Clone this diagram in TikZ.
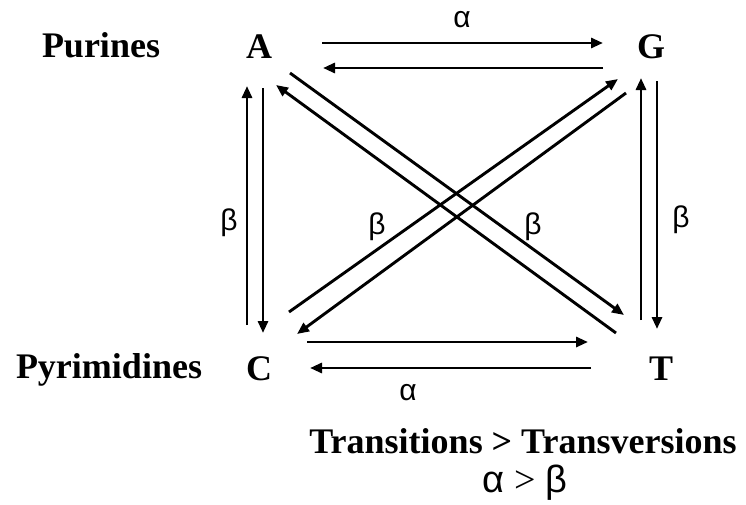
\documentclass[tikz,border=0pt]{standalone}
\usepackage{fontspec}
\setmainfont{Liberation Serif}
\newfontfamily\grk{Liberation Sans}
\usetikzlibrary{arrows.meta}
\begin{document}
\begin{tikzpicture}[x=1pt,y=-1pt,
  base/.style={font=\fontsize{36}{40}\selectfont\bfseries, inner sep=0pt, anchor=base},
  lbl/.style={font=\fontsize{30}{34}\selectfont\grk, inner sep=0pt},
  arr/.style={line width=2.9pt, -{Triangle[length=12pt,width=10pt]}}]
\useasboundingbox (0,0) rectangle (746,504);
% letters
\node[base] (A) at (259,58) {A};
\node[base] (G) at (651,58) {G};
\node[base] (C) at (259,380) {C};
\node[base] (T) at (661,380) {T};
\node[base] (pur) at (101,57) {Purines};
\node[base] (pyr) at (109,378) {Pyrimidines};
\node[base] (tt) at (523,453) {Transitions > Transversions};
\node[base, font=\fontsize{38}{42}\selectfont\mdseries] (ab) at (525,492) {{\grk α} > {\grk β}};
% endpoints
\coordinate (t1) at (322,43); \coordinate (t2) at (603,43);
\coordinate (t3) at (603,68); \coordinate (t4) at (323,68);
\coordinate (b1) at (307,342); \coordinate (b2) at (588,342);
\coordinate (b3) at (591,368); \coordinate (b4) at (310,368);
\coordinate (l1) at (247,325); \coordinate (l2) at (247,86);
\coordinate (l3) at (263,88); \coordinate (l4) at (263,333);
\coordinate (r1) at (641,320); \coordinate (r2) at (641,78);
\coordinate (r3) at (657,81); \coordinate (r4) at (657,329);
\coordinate (d1) at (290,73); \coordinate (d2) at (624,315);
\coordinate (d3) at (616,333); \coordinate (d4) at (276,85);
\coordinate (e1) at (289,312); \coordinate (e2) at (618,79);
\coordinate (e3) at (626,93); \coordinate (e4) at (297,334);
\draw[arr] (t1) -- (t2);
\draw[arr] (t3) -- (t4);
\draw[arr] (b1) -- (b2);
\draw[arr] (b3) -- (b4);
\draw[arr] (l1) -- (l2);
\draw[arr] (l3) -- (l4);
\draw[arr] (r1) -- (r2);
\draw[arr] (r3) -- (r4);
\draw[arr] (d1) -- (d2);
\draw[arr] (d3) -- (d4);
\draw[arr] (e1) -- (e2);
\draw[arr] (e3) -- (e4);
% labels
\node[lbl] (la1) at (462,20) {α};
\node[lbl] (la2) at (408,393) {α};
\node[lbl] (lb1) at (229,223) {β};
\node[lbl] (lb2) at (377,227) {β};
\node[lbl] (lb3) at (533,227) {β};
\node[lbl] (lb4) at (681,220) {β};
\end{tikzpicture}
\end{document}
